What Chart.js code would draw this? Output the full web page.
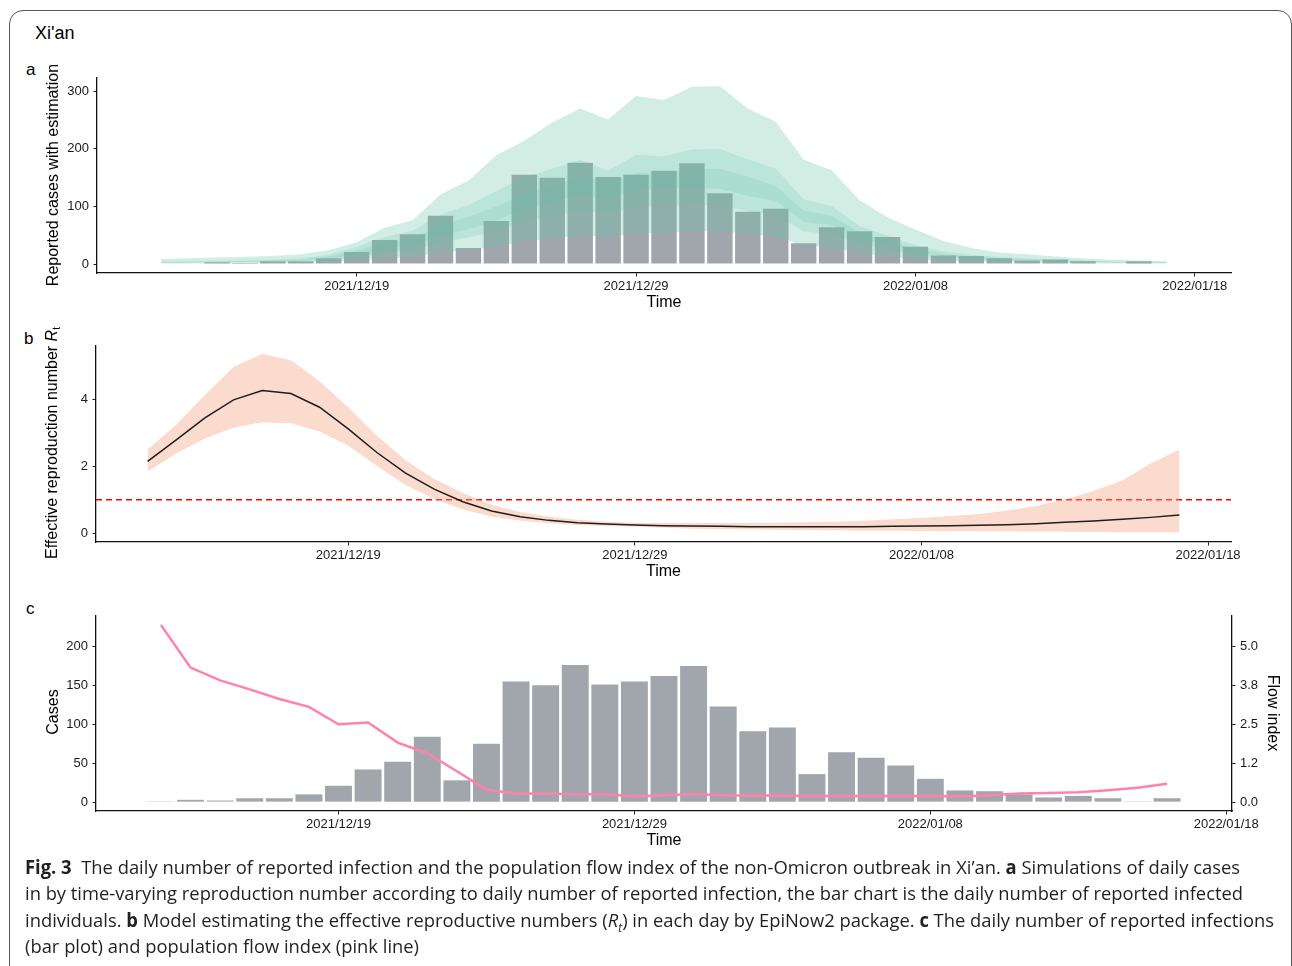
<!DOCTYPE html>
<html>
<head>
<meta charset="utf-8">
<script src="https://cdn.jsdelivr.net/npm/chart.js@4.4.0/dist/chart.umd.min.js"></script>
<style>
  html, body { margin: 0; padding: 0; background: #fff; }
  body { width: 1292px; height: 966px; position: relative; overflow: hidden; font-family: "Liberation Sans", Arial, sans-serif; color: #000; }
  .frame { position: absolute; left: 9px; top: 10px; width: 1281px; height: 1000px; border: 1px solid #555; border-radius: 14px; }
  .abs { position: absolute; white-space: nowrap; }
  .vt { position: absolute; width: 320px; height: 20px; line-height: 20px; text-align: center; font-size: 16px; white-space: nowrap; }
  canvas { position: absolute; left: 0; }
  .cap { position: absolute; left: 25px; font-family: "Open Sans", sans-serif; font-size: 19px; line-height: 26px; color: #231f20; white-space: nowrap; transform-origin: left center; }
</style>
</head>
<body>
<div class="frame"></div>
<div class="abs" style="left:35px; top:23px; font-size:18px; line-height:20px;">Xi'an</div>
<div class="abs" style="left:26px; top:60px; font-size:17px; line-height:20px;">a</div>
<div class="abs" style="left:24px; top:329px; font-size:17px; line-height:20px;">b</div>
<div class="abs" style="left:26px; top:599px; font-size:17px; line-height:20px;">c</div>

<canvas id="chartA" width="1292" height="260" style="top:60px"></canvas>
<canvas id="chartB" width="1292" height="270" style="top:320px"></canvas>
<canvas id="chartC" width="1292" height="268" style="top:590px"></canvas>

<div class="vt" style="left:-107px; top:165px; transform:rotate(-90deg);">Reported cases with estimation</div>
<div class="vt" style="left:-108px; top:433px; transform:rotate(-90deg);">Effective reproduction number <i>R</i><sub style="font-size:10px; vertical-align:-3px;">t</sub></div>
<div class="vt" style="left:-107px; top:702px; transform:rotate(-90deg);">Cases</div>
<div class="vt" style="left:1113px; top:703px; transform:rotate(90deg);">Flow index</div>

<div class="cap" style="top:854px;"><b>Fig. 3</b>&nbsp; The daily number of reported infection and the population flow index of the non-Omicron outbreak in Xi’an. <b>a</b> Simulations of daily cases</div>
<div class="cap" style="top:880px;">in by time-varying reproduction number according to daily number of reported infection, the bar chart is the daily number of reported infected</div>
<div class="cap" style="top:907px;">individuals. <b>b</b> Model estimating the effective reproductive numbers (<i>R</i><sub style="font-size:12px;"><i>t</i></sub>) in each day by EpiNow2 package. <b>c</b> The daily number of reported infections</div>
<div class="cap" style="top:933px;">(bar plot) and population flow index (pink line)</div>

<script>
// days of the estimation window, 2021/12/12 .. 2022/01/17
const days = ['2021/12/12', '2021/12/13', '2021/12/14', '2021/12/15', '2021/12/16', '2021/12/17', '2021/12/18',
  '2021/12/19', '2021/12/20', '2021/12/21', '2021/12/22', '2021/12/23', '2021/12/24', '2021/12/25',
  '2021/12/26', '2021/12/27', '2021/12/28', '2021/12/29', '2021/12/30', '2021/12/31', '2022/01/01',
  '2022/01/02', '2022/01/03', '2022/01/04', '2022/01/05', '2022/01/06', '2022/01/07', '2022/01/08',
  '2022/01/09', '2022/01/10', '2022/01/11', '2022/01/12', '2022/01/13', '2022/01/14', '2022/01/15',
  '2022/01/16', '2022/01/17'];
const dateTicks = ['2021/12/19', '2021/12/29', '2022/01/08', '2022/01/18'];

const reportedCases = [1, 1, 3, 2, 5, 5, 10, 21, 42, 52, 84, 28, 75, 155, 150, 176, 151, 155, 162, 175,
  123, 91, 96, 36, 64, 57, 47, 30, 15, 14, 10, 6, 8, 5, 1, 5, 1];

// EpiNow2 estimate bands for panel a
const estUpper90 = [8.6, 10, 11.5, 12.6, 14, 17, 24, 38, 63, 76, 121, 145, 189, 214, 246, 270, 251, 292, 285, 308,
  309, 270, 247, 181, 163, 111, 81, 60, 40, 28, 20, 17, 13, 10, 7.5, 6.4, 5.2];
const estUpper50 = [4, 5, 5.5, 6.5, 7.5, 10, 16, 30, 47, 58, 86, 102, 127, 150, 166, 181, 162, 190, 187, 199,
  200, 182, 166, 112, 101, 66, 49, 33, 22, 16, 12.5, 10, 8, 6.5, 5, 4, 3.5];
const estUpper20 = [3.3, 4, 4.5, 5, 6, 8, 13, 24, 37, 45, 68, 82, 100, 122, 137, 152, 143, 158, 158, 165,
  165, 152, 135, 93, 84, 55, 41, 26, 17, 13, 10, 8.5, 6.5, 5, 4, 3.3, 2.8];
const estLower20 = [2.5, 3, 3.5, 4, 5, 6, 9, 16, 26, 32, 50, 60, 76, 95, 108, 121, 114, 130, 130, 133,
  131, 118, 110, 73, 68, 45, 34, 21, 14, 10, 8, 6.5, 5.3, 4, 3, 2.7, 2.2];
const estLower50 = [2, 2.3, 2.7, 3, 3.7, 4.5, 7, 12, 20, 24, 38, 46, 58, 73, 83, 93, 88, 100, 100, 103,
  102, 92, 85, 57, 52, 35, 26, 16, 10.5, 7.5, 6, 5, 4, 3, 2.4, 2, 1.7];
const estLower90 = [1, 1.2, 1.4, 1.6, 2, 2.4, 3.5, 6, 10, 13, 20, 24, 31, 39, 44, 50, 47, 54, 54, 57,
  57, 52, 48, 32, 29, 19, 14, 9, 5.5, 4, 3, 2.5, 2, 1.5, 1.2, 1, 0.8];

// effective reproduction number, panel b
const rtMedian = [2.15, 2.80, 3.46, 4.00, 4.28, 4.19, 3.78, 3.13, 2.42, 1.80, 1.32, 0.94, 0.66, 0.49, 0.38,
  0.31, 0.27, 0.24, 0.22, 0.21, 0.20, 0.19, 0.19, 0.19, 0.19, 0.19, 0.20, 0.21, 0.22, 0.23, 0.25, 0.28,
  0.32, 0.36, 0.41, 0.47, 0.54];
const rtUpper = [2.51, 3.25, 4.15, 5.00, 5.38, 5.19, 4.56, 3.78, 2.92, 2.19, 1.62, 1.20, 0.85, 0.63, 0.49,
  0.40, 0.34, 0.31, 0.30, 0.30, 0.30, 0.30, 0.31, 0.32, 0.34, 0.37, 0.41, 0.45, 0.51, 0.57, 0.68, 0.81,
  1.01, 1.26, 1.58, 2.09, 2.51];
const rtLower = [1.85, 2.39, 2.84, 3.16, 3.33, 3.30, 3.05, 2.62, 2.02, 1.44, 1.02, 0.71, 0.50, 0.37, 0.29,
  0.24, 0.21, 0.19, 0.16, 0.13, 0.12, 0.11, 0.10, 0.09, 0.08, 0.07, 0.065, 0.06, 0.055, 0.05, 0.045, 0.04,
  0.035, 0.03, 0.025, 0.02, 0.02];
const rtThreshold = 1;

// population flow index, 2021/12/13 .. 2022/01/16
const flowIndex = [5.69, 4.32, 3.91, 3.62, 3.31, 3.06, 2.50, 2.56, 1.91, 1.57, 0.99, 0.40, 0.28, 0.28, 0.25,
  0.25, 0.19, 0.22, 0.26, 0.22, 0.21, 0.21, 0.20, 0.20, 0.20, 0.20, 0.20, 0.18, 0.22, 0.28, 0.29, 0.32,
  0.38, 0.46, 0.59];

const casesTicksA = [0, 100, 200, 300];
const rtTicks = [0, 2, 4];
const casesTicksC = [0, 50, 100, 150, 200];
const flowTicks = [0, 1.25, 2.5, 3.75, 5];
const flowTickLabels = ['0.0', '1.2', '2.5', '3.8', '5.0'];
const flowPerCase = 1 / 40;   // sec axis ratio in panel c

const dayIndex = d => days.indexOf(d);
const tickIdx = dateTicks.map(d => d === '2022/01/18' ? days.length : dayIndex(d));
const pts = (arr, start) => arr.map((v, i) => ({ x: i + start, y: v }));

const tickFont = { family: 'Liberation Sans', size: 13 };
const titleFont = { family: 'Liberation Sans', size: 16, lineHeight: 1.2 };

function xAxis(min, max, h, pb) {
  return {
    type: 'linear', min: min, max: max, offset: false,
    afterBuildTicks: s => { s.ticks = tickIdx.map(v => ({ value: v })); },
    afterFit: s => { s.height = h; },
    ticks: { callback: v => dateTicks[tickIdx.indexOf(v)], color: '#1a1a1a', font: tickFont, padding: 2, maxRotation: 0, autoSkip: false },
    grid: { display: true, offset: false, drawOnChartArea: false, drawTicks: true, tickLength: 3.5, color: '#222', lineWidth: 1 },
    border: { display: true, color: '#111', width: 1.3 },
    title: { display: true, text: 'Time', color: '#000', font: titleFont, padding: { top: 0, bottom: pb } }
  };
}

function yAxis(min, max, ticks, labels, w, pos) {
  return {
    type: 'linear', position: pos || 'left', min: min, max: max,
    afterBuildTicks: s => { s.ticks = ticks.map(v => ({ value: v })); },
    afterFit: s => { s.width = w; },
    ticks: { callback: v => labels ? labels[ticks.indexOf(v)] : String(v), color: '#1a1a1a', font: tickFont, padding: 4.5 },
    grid: { display: true, offset: false, drawOnChartArea: false, drawTicks: true, tickLength: 3.5, color: '#222', lineWidth: 1 },
    border: { display: true, color: '#111', width: 1.3 }
  };
}

const common = {
  responsive: false, animation: false, events: [],
  plugins: { legend: { display: false }, tooltip: { enabled: false } }
};

const none = 'rgba(0,0,0,0)';
function edge(arr, fill, alpha) {
  return { type: 'line', data: pts(arr, 0), borderColor: none, borderWidth: 0, pointRadius: 0,
    backgroundColor: 'rgba(102,194,165,' + alpha + ')', fill: fill, tension: 0, order: 1 };
}

// panel a
new Chart(document.getElementById('chartA'), {
  type: 'bar',
  data: {
    datasets: [
      { type: 'bar', data: pts(reportedCases, 0), backgroundColor: '#a1a6ac', borderWidth: 0,
        barPercentage: 0.91, categoryPercentage: 1, order: 2 },
      edge(estLower90, false, 0), edge(estUpper90, '-1', 0.3),
      edge(estLower50, false, 0), edge(estUpper50, '-1', 0.2),
      edge(estLower20, false, 0), edge(estUpper20, '-1', 0.2)
    ]
  },
  options: Object.assign({}, common, {
    layout: { padding: { left: 0, right: 61, top: 17.5, bottom: 0 } },
    scales: {
      x: xAxis(-2.295, 38.295, 47, 7.7),
      y: yAxis(-15.5, 324, casesTicksA, null, 97)
    }
  })
});

// panel b
const xb = [-1.8, 37.8];
new Chart(document.getElementById('chartB'), {
  type: 'line',
  data: {
    datasets: [
      { data: [{ x: xb[0], y: rtThreshold }, { x: xb[1], y: rtThreshold }], borderColor: '#ff0000',
        borderWidth: 1.4, borderDash: [6, 4], pointRadius: 0, fill: false, order: 3 },
      { data: pts(rtLower, 0), borderColor: none, borderWidth: 0, pointRadius: 0, fill: false, order: 2 },
      { data: pts(rtUpper, 0), borderColor: none, borderWidth: 0, pointRadius: 0, fill: '-1',
        backgroundColor: 'rgba(244,165,130,0.4)', order: 2 },
      { data: pts(rtMedian, 0), borderColor: '#1e1e1e', borderWidth: 1.5, pointRadius: 0, fill: false, order: 0 }
    ]
  },
  options: Object.assign({}, common, {
    layout: { padding: { left: 0, right: 61, top: 26, bottom: 0 } },
    scales: {
      x: xAxis(xb[0], xb[1], 48, 8.7),
      y: yAxis(-0.27, 5.62, rtTicks, null, 96)
    }
  })
});

// panel c
const yMinC = -11.4, yMaxC = 239.1;
new Chart(document.getElementById('chartC'), {
  type: 'bar',
  data: {
    datasets: [
      { type: 'bar', data: pts(reportedCases.slice(1, 36), 1), backgroundColor: '#a1a6ac', borderWidth: 0,
        barPercentage: 0.91, categoryPercentage: 1, yAxisID: 'y', order: 2 },
      { type: 'line', data: pts(flowIndex, 1), borderColor: '#ff82ab', borderWidth: 2.5, pointRadius: 0,
        fill: false, tension: 0, yAxisID: 'y1', order: 1 }
    ]
  },
  options: Object.assign({}, common, {
    layout: { padding: { left: 0, right: 0, top: 26, bottom: 0 } },
    scales: {
      x: xAxis(-1.195, 37.195, 47, 7.7),
      y: yAxis(yMinC, yMaxC, casesTicksC, null, 96),
      y1: yAxis(yMinC * flowPerCase, yMaxC * flowPerCase, flowTicks, flowTickLabels, 60, 'right')
    }
  })
});

// fit caption lines to the printed widths
const capWidths = [1215, 1218, 1249, 394];
document.querySelectorAll('.cap').forEach((el, i) => {
  const w = el.getBoundingClientRect().width;
  el.style.transform = 'scaleX(' + (capWidths[i] / w) + ')';
});
</script>
</body>
</html>
